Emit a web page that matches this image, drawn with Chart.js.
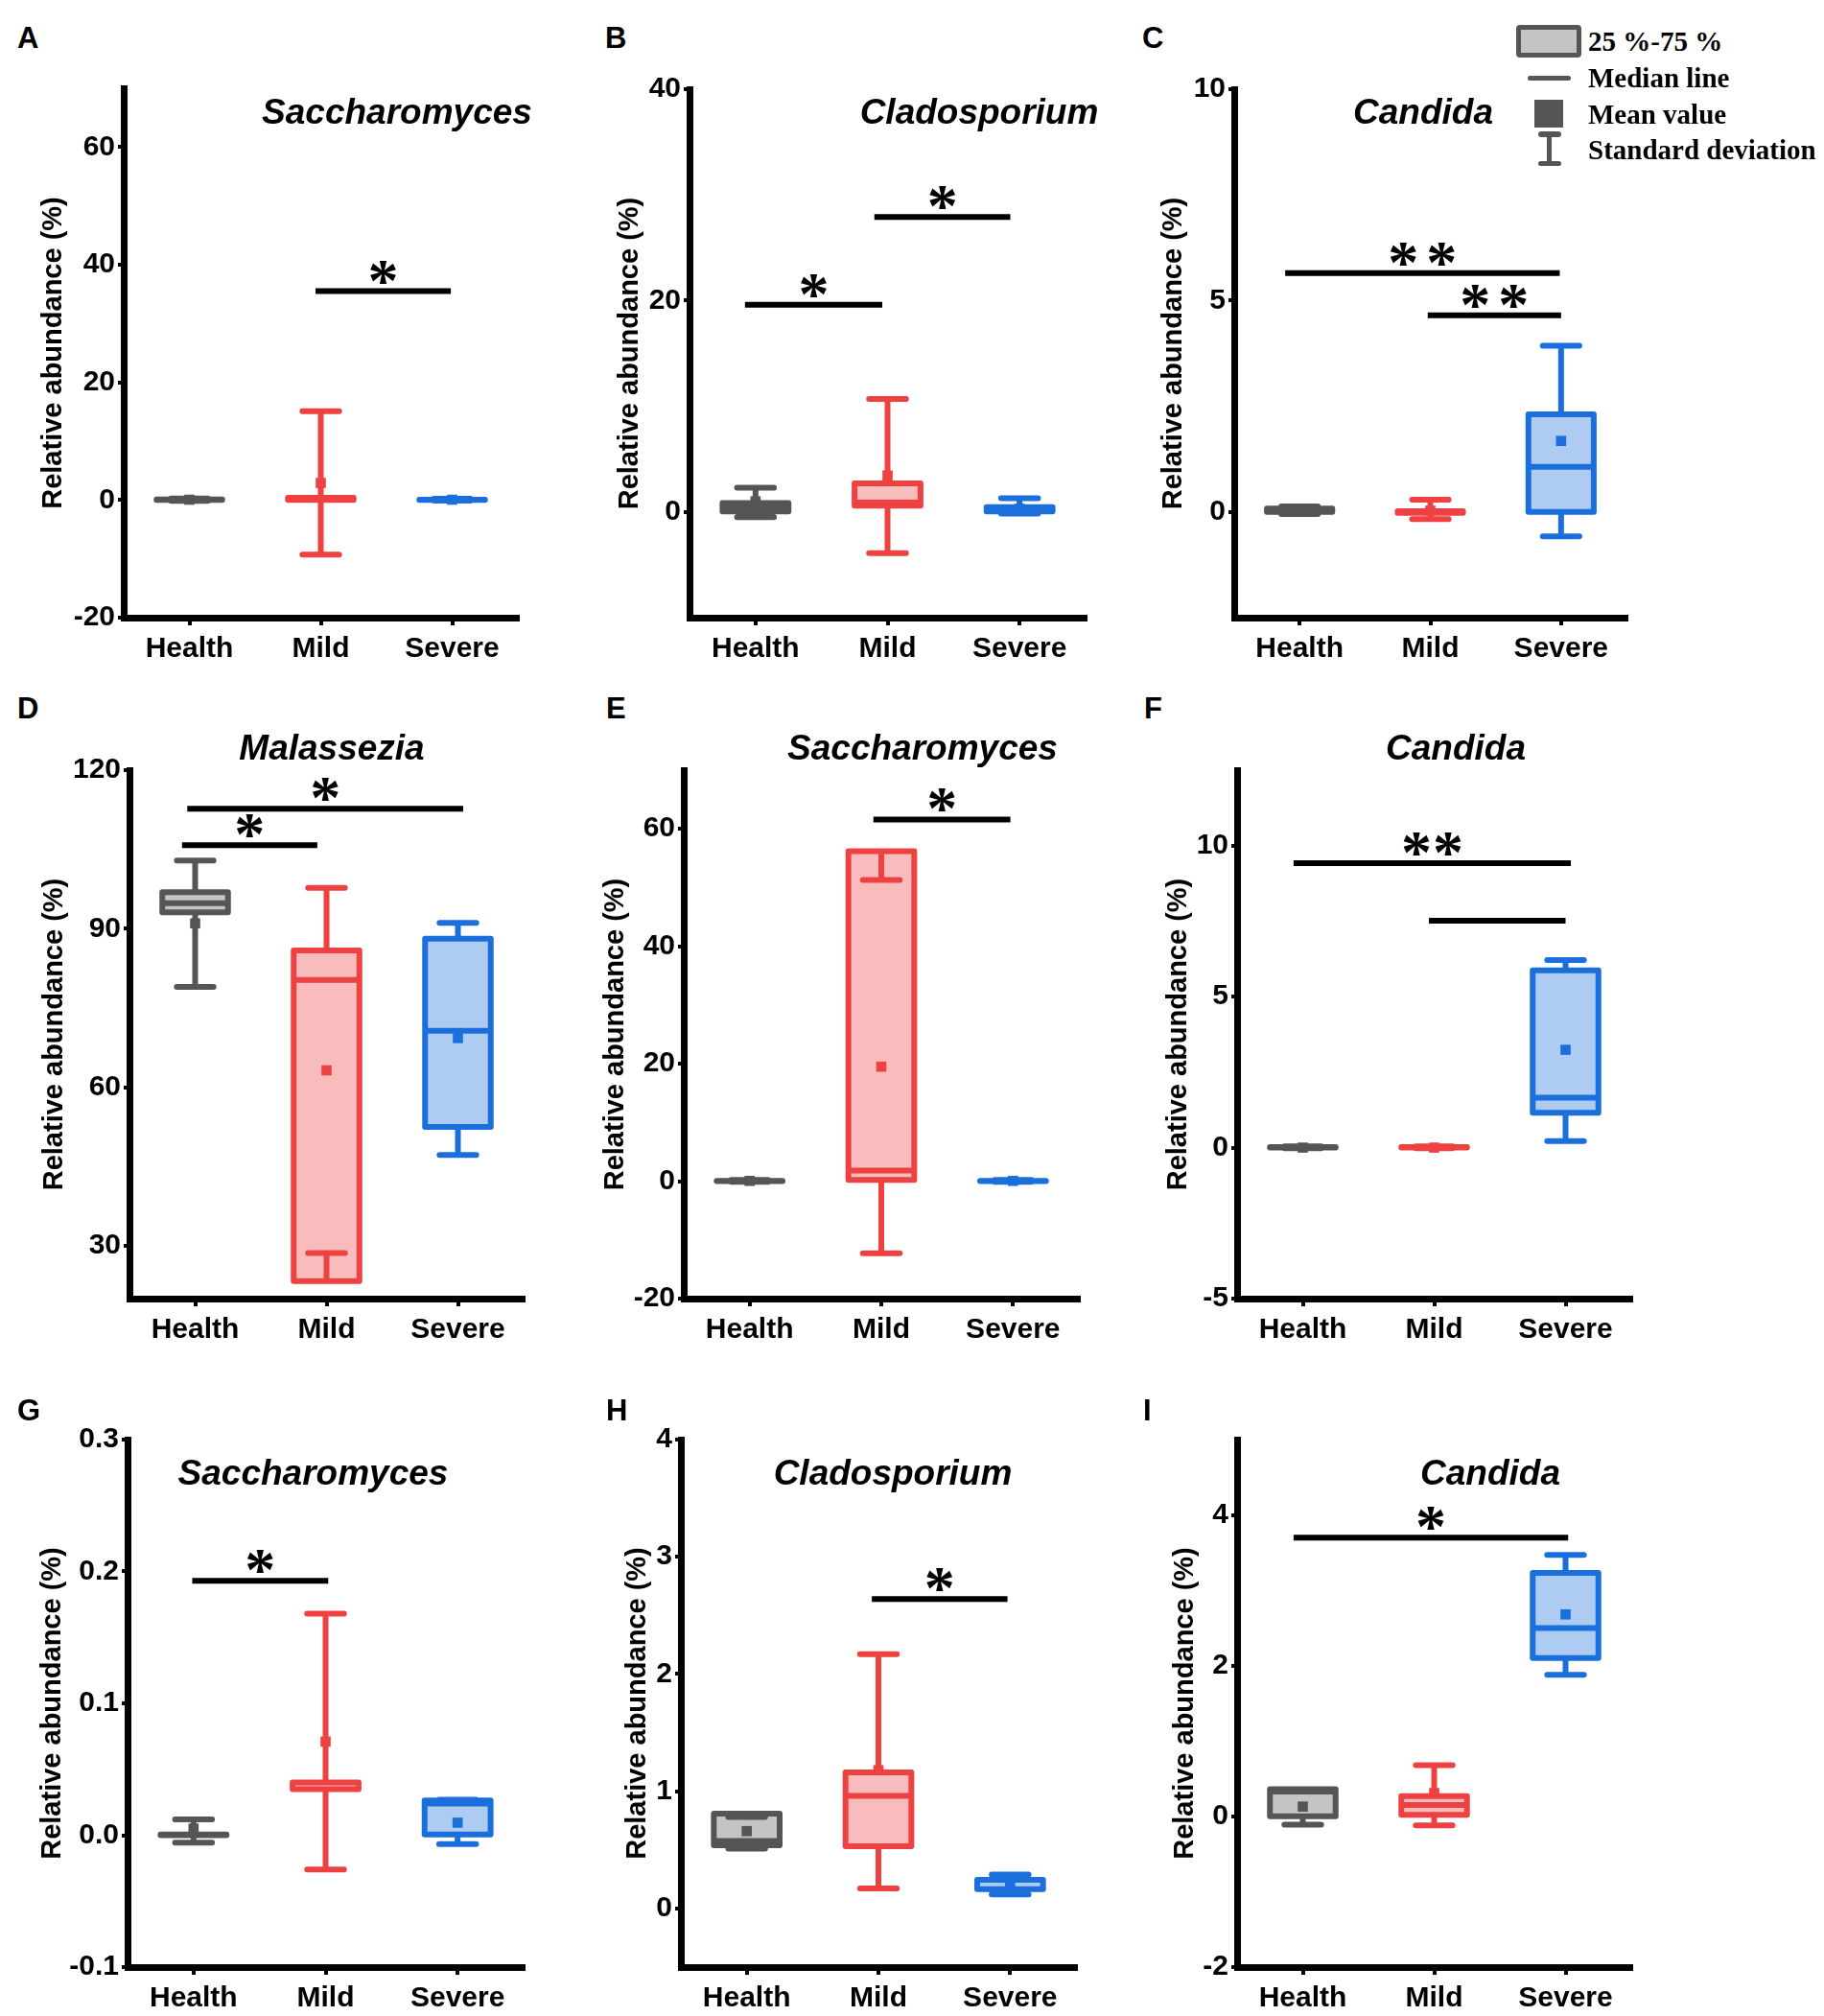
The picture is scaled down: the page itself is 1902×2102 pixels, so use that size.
<!DOCTYPE html>
<html>
<head>
<meta charset="utf-8">
<script src="https://cdn.jsdelivr.net/npm/chart.js@4.4.1/dist/chart.umd.min.js"></script>
<style>
    html, body { margin: 0; padding: 0; background: #fff; }
    body { width: 1902px; height: 2102px; position: relative; overflow: hidden; }
    canvas { position: absolute; }
    .letter { position: absolute; font: bold 31px 'Liberation Sans', Arial, sans-serif; line-height: 31px; color: #000; }
    .title { position: absolute; font: italic bold 37px 'Liberation Sans', Arial, sans-serif; line-height: 37px; color: #000; white-space: nowrap; transform: translateX(-50%); }
    .lg-text { position: absolute; font: bold 29px 'Liberation Serif', 'Times New Roman', serif; line-height: 29px; color: #000; white-space: nowrap; }
    .lg-shape { position: absolute; background: #555; }
</style>
</head>
<body>
<script>
/* ============================================
   DATA
   ============================================ */
const groups = ['Health', 'Mild', 'Severe'];

// A - Saccharomyces
const aQ1 = [0, 0, 0];
const aMedian = [0, 0.1, 0];
const aQ3 = [0.1, 0.4, 0.05];
const aMean = [0.05, 2.9, 0.05];
const aSdLow = [-0.15, -9.3, -0.1];
const aSdHigh = [0.25, 15.1, 0.2];
const aTicks = [-20, 0, 20, 40, 60];
const aSig = [[1.96, 2.99, 35.5, '*']];

// B - Cladosporium
const bQ1 = [0.05, 0.6, 0.05];
const bMedian = [0.4, 0.9, 0.2];
const bQ3 = [0.85, 2.7, 0.45];
const bMean = [1.0, 3.45, 0.3];
const bSdLow = [-0.5, -3.9, -0.15];
const bSdHigh = [2.3, 10.7, 1.3];
const bTicks = [0, 20, 40];
const bSig = [[0.92, 1.96, 19.6, '*'], [1.9, 2.93, 27.9, '*']];

// C - Candida
const cQ1 = [0, -0.02, 0];
const cMedian = [0.03, 0, 1.07];
const cQ3 = [0.08, 0.02, 2.31];
const cMean = [0.04, 0.03, 1.68];
const cSdLow = [-0.05, -0.17, -0.58];
const cSdHigh = [0.13, 0.29, 3.93];
const cTicks = [0, 5, 10];
const cSig = [[0.89, 2.99, 5.65, '* *'], [1.98, 3.0, 4.65, '* *']];

// D - Malassezia
const dQ1 = [93.1, 23.3, 52.5];
const dMedian = [94.8, 80.3, 70.7];
const dQ3 = [96.9, 85.9, 88.1];
const dMean = [91, 63.2, 69.3];
const dSdLow = [79, 28.6, 47.2];
const dSdHigh = [102.9, 97.7, 91.1];
const dTicks = [30, 60, 90, 120];
const dSig = [[0.9, 1.93, 105.8, '*'], [0.94, 3.04, 112.7, '*']];

// E - Saccharomyces
const eQ1 = [0, 0.2, 0];
const eMedian = [0, 1.8, 0];
const eQ3 = [0.05, 56.2, 0.05];
const eMean = [0.05, 19.5, 0.05];
const eSdLow = [-0.1, -12.3, -0.1];
const eSdHigh = [0.2, 51.3, 0.2];
const eTicks = [-20, 0, 20, 40, 60];
const eSig = [[1.94, 2.98, 61.6, '*']];

// F - Candida
const fQ1 = [0, 0, 1.15];
const fMedian = [0, 0, 1.65];
const fQ3 = [0.02, 0.02, 5.87];
const fMean = [0, 0, 3.24];
const fSdLow = [-0.02, -0.02, 0.22];
const fSdHigh = [0.04, 0.04, 6.21];
const fTicks = [-5, 0, 5, 10];
const fSig = [[0.93, 3.04, 9.42, '**'], [1.96, 3.0, 7.51, '']];

// G - Saccharomyces
const gQ1 = [0, 0.035, 0.0005];
const gMedian = [0, 0.04, 0.024];
const gQ3 = [0.0005, 0.04, 0.0263];
const gMean = [0.005, 0.071, 0.0095];
const gSdLow = [-0.0057, -0.026, -0.0068];
const gSdHigh = [0.012, 0.168, 0.027];
const gTicks = [-0.1, 0, 0.1, 0.2, 0.3];
const gSig = [[0.99, 2.02, 0.193, '*']];

// H - Cladosporium
const hQ1 = [0.54, 0.53, 0.165];
const hMedian = [0.576, 0.96, 0.245];
const hQ3 = [0.81, 1.16, 0.245];
const hMean = [0.66, 1.18, 0.2];
const hSdLow = [0.51, 0.17, 0.12];
const hSdHigh = [0.78, 2.17, 0.29];
const hTicks = [0, 1, 2, 3, 4];
const hSig = [[1.95, 2.98, 2.64, '*']];

// I - Candida
const iQ1 = [0, 0.02, 2.10];
const iMedian = [0.33, 0.15, 2.50];
const iQ3 = [0.36, 0.27, 3.23];
const iMean = [0.13, 0.31, 2.68];
const iSdLow = [-0.11, -0.12, 1.88];
const iSdHigh = [0.34, 0.68, 3.47];
const iTicks = [-2, 0, 2, 4];
const iSig = [[0.93, 3.02, 3.70, '*']];

const panels = [
    { id: 'A', title: 'Saccharomyces', q1: aQ1, median: aMedian, q3: aQ3, mean: aMean, low: aSdLow, high: aSdHigh, min: -20, max: 70, ticks: aTicks, sig: aSig, decimals: 0 },
    { id: 'B', title: 'Cladosporium', q1: bQ1, median: bMedian, q3: bQ3, mean: bMean, low: bSdLow, high: bSdHigh, min: -10, max: 40, ticks: bTicks, sig: bSig, decimals: 0 },
    { id: 'C', title: 'Candida', q1: cQ1, median: cMedian, q3: cQ3, mean: cMean, low: cSdLow, high: cSdHigh, min: -2.5, max: 10, ticks: cTicks, sig: cSig, decimals: 0 },
    { id: 'D', title: 'Malassezia', q1: dQ1, median: dMedian, q3: dQ3, mean: dMean, low: dSdLow, high: dSdHigh, min: 20, max: 120, ticks: dTicks, sig: dSig, decimals: 0 },
    { id: 'E', title: 'Saccharomyces', q1: eQ1, median: eMedian, q3: eQ3, mean: eMean, low: eSdLow, high: eSdHigh, min: -20, max: 70, ticks: eTicks, sig: eSig, decimals: 0 },
    { id: 'F', title: 'Candida', q1: fQ1, median: fMedian, q3: fQ3, mean: fMean, low: fSdLow, high: fSdHigh, min: -5, max: 12.5, ticks: fTicks, sig: fSig, decimals: 0 },
    { id: 'G', title: 'Saccharomyces', q1: gQ1, median: gMedian, q3: gQ3, mean: gMean, low: gSdLow, high: gSdHigh, min: -0.1, max: 0.3, ticks: gTicks, sig: gSig, decimals: 1 },
    { id: 'H', title: 'Cladosporium', q1: hQ1, median: hMedian, q3: hQ3, mean: hMean, low: hSdLow, high: hSdHigh, min: -0.5, max: 4, ticks: hTicks, sig: hSig, decimals: 0 },
    { id: 'I', title: 'Candida', q1: iQ1, median: iMedian, q3: iQ3, mean: iMean, low: iSdLow, high: iSdHigh, min: -2, max: 5, ticks: iTicks, sig: iSig, decimals: 0 }
];

/* ============================================
   LAYOUT (pixel positions of each plot area)
   ============================================ */
const layout = {
    A: { axisX: 128.5, top: 91.5, bottom: 643, right: 539, yTitleOff: 73.5, titleX: 414, titleBase: 129, letterX: 18, letterBase: 50 },
    B: { axisX: 719, top: 93, bottom: 644, right: 1131.6, yTitleOff: 62, titleX: 1021, titleBase: 129, letterX: 631, letterBase: 50 },
    C: { axisX: 1287, top: 93, bottom: 644, right: 1695.6, yTitleOff: 63, titleX: 1484, titleBase: 129, letterX: 1191, letterBase: 50 },
    D: { axisX: 134.7, top: 802.7, bottom: 1354, right: 546, yTitleOff: 77.7, titleX: 346, titleBase: 792, letterX: 18, letterBase: 749 },
    E: { axisX: 713.3, top: 802.7, bottom: 1354, right: 1125, yTitleOff: 71, titleX: 962, titleBase: 792, letterX: 632, letterBase: 749 },
    F: { axisX: 1290, top: 802.7, bottom: 1354, right: 1701, yTitleOff: 61.4, titleX: 1518, titleBase: 792, letterX: 1193, letterBase: 749 },
    G: { axisX: 133, top: 1500.5, bottom: 2050.7, right: 546, yTitleOff: 78, titleX: 326.5, titleBase: 1548, letterX: 18, letterBase: 1481 },
    H: { axisX: 710.2, top: 1500.5, bottom: 2050.7, right: 1122.4, yTitleOff: 45, titleX: 931, titleBase: 1548, letterX: 632, letterBase: 1481 },
    I: { axisX: 1290, top: 1500.5, bottom: 2050.7, right: 1701, yTitleOff: 54, titleX: 1554, titleBase: 1548, letterX: 1192, letterBase: 1481 }
};

const colors = [
    { line: '#555555', fill: '#c4c4c4' },
    { line: '#ee4242', fill: '#f8bcbc' },
    { line: '#1b6fdc', fill: '#aecbf1' }
];

const FONT = "'Liberation Sans', Arial, sans-serif";
const BOX_HALF = 0.25;   // half box width, x units
const CAP_HALF = 0.14;   // half whisker cap width, x units
const Y_W = 110, PAD_T = 24, PAD_R = 10, X_H = 54;

/* ============================================
   SIGNIFICANCE STARS PLUGIN
   ============================================ */
const sigStars = {
    id: 'sigStars',
    afterDatasetsDraw(chart, args, opts) {
        const { ctx, scales: { x, y } } = chart;
        ctx.save();
        ctx.font = "bold 64px 'Liberation Serif', 'Times New Roman', serif";
        ctx.fillStyle = '#000';
        ctx.textAlign = 'center';
        ctx.textBaseline = 'alphabetic';
        (opts.sig || []).forEach(([x1, x2, level, mark]) => {
            if (!mark) return;
            const n = mark.replace(/ /g, '').length;
            const step = mark.includes(' ') ? 40 : 33;   // spaced "* *" vs tight "**"
            const cx = x.getPixelForValue((x1 + x2) / 2);
            const cy = y.getPixelForValue(level) - 19;
            for (let k = 0; k < n; k++) {
                const px = cx + (k - (n - 1) / 2) * step;
                ctx.fillText('*', px, cy + 29);
            }
        });
        ctx.restore();
    }
};

/* ============================================
   BUILD ONE PANEL
   ============================================ */
function boxPath(p, i) {
    const x = i + 1;
    const gap = { x, y: null };
    return [
        { x: x - BOX_HALF, y: p.q1[i] }, { x: x + BOX_HALF, y: p.q1[i] },
        { x: x + BOX_HALF, y: p.q3[i] }, { x: x - BOX_HALF, y: p.q3[i] },
        { x: x - BOX_HALF, y: p.q1[i] }, gap,
        { x: x - BOX_HALF, y: p.median[i] }, { x: x + BOX_HALF, y: p.median[i] }, gap,
        { x, y: p.q3[i] }, { x, y: p.high[i] }, gap,
        { x, y: p.q1[i] }, { x, y: p.low[i] }, gap,
        { x: x - CAP_HALF, y: p.high[i] }, { x: x + CAP_HALF, y: p.high[i] }, gap,
        { x: x - CAP_HALF, y: p.low[i] }, { x: x + CAP_HALF, y: p.low[i] }
    ];
}

function buildPanel(p) {
    const L = layout[p.id];
    const plotW = Math.round(L.right - L.axisX);
    const plotH = Math.round(L.bottom - L.top);
    const left = Math.round(L.axisX - Y_W);
    const top = Math.round(L.top - PAD_T);
    const w = Y_W + plotW + PAD_R;
    const h = PAD_T + plotH + X_H;

    const canvas = document.createElement('canvas');
    canvas.width = w;
    canvas.height = h;
    canvas.style.left = left + 'px';
    canvas.style.top = top + 'px';
    canvas.style.width = w + 'px';
    canvas.style.height = h + 'px';
    document.body.appendChild(canvas);

    // Panel letter and genus title
    const letter = document.createElement('div');
    letter.className = 'letter';
    letter.textContent = p.id;
    letter.style.left = L.letterX + 'px';
    letter.style.top = (L.letterBase - 26.2) + 'px';
    document.body.appendChild(letter);

    const title = document.createElement('div');
    title.className = 'title';
    title.textContent = p.title;
    title.style.left = L.titleX + 'px';
    title.style.top = (L.titleBase - 31.3) + 'px';
    document.body.appendChild(title);

    const sigData = [];
    p.sig.forEach(([x1, x2, level]) => {
        sigData.push({ x: x1, y: level }, { x: x2, y: level }, { x: x2, y: null });
    });

    const datasets = [
        {
            type: 'bar',
            data: groups.map((g, i) => ({ x: i + 1, y: [p.q1[i], p.q3[i]] })),
            backgroundColor: colors.map(c => c.fill),
            borderWidth: 0,
            inflateAmount: 0,
            barPercentage: 2 * BOX_HALF,
            categoryPercentage: 1,
            order: 3
        },
        ...groups.map((g, i) => ({
            type: 'line',
            data: boxPath(p, i),
            borderColor: colors[i].line,
            borderWidth: 6,
            borderCapStyle: 'round',
            borderJoinStyle: 'round',
            pointRadius: 0,
            spanGaps: false,
            tension: 0,
            order: 2
        })),
        {
            type: 'line',
            data: p.mean.map((m, i) => ({ x: i + 1, y: m })),
            showLine: false,
            pointStyle: 'rect',
            pointRadius: 7.5,
            pointBorderWidth: 0,
            pointBackgroundColor: colors.map(c => c.line),
            order: 1
        },
        {
            type: 'line',
            data: sigData,
            borderColor: '#000',
            borderWidth: 6,
            borderCapStyle: 'butt',
            pointRadius: 0,
            spanGaps: false,
            order: 0
        }
    ];

    const tickFont = { family: FONT, size: 30, weight: 'bold' };

    new Chart(canvas, {
        type: 'bar',
        data: { datasets },
        options: {
            responsive: false,
            animation: false,
            devicePixelRatio: 1,
            events: [],
            layout: { padding: { left: 0, top: PAD_T, right: PAD_R, bottom: 0 } },
            plugins: {
                legend: { display: false },
                tooltip: { enabled: false },
                sigStars: { sig: p.sig }
            },
            scales: {
                x: {
                    type: 'linear',
                    min: 0.5,
                    max: 3.5,
                    offset: false,
                    afterBuildTicks: s => { s.ticks = groups.map((g, i) => ({ value: i + 1 })); },
                    afterFit: s => { s.height = X_H; },
                    ticks: { color: '#000', font: tickFont, padding: 7, maxRotation: 0, autoSkip: false, callback: v => groups[v - 1] },
                    grid: { display: true, offset: false, drawOnChartArea: false, drawTicks: true, tickLength: 8, tickWidth: 4, lineWidth: 4, color: '#000', tickColor: '#000' },
                    border: { display: true, width: 7, color: '#000' }
                },
                y: {
                    type: 'linear',
                    min: p.min,
                    max: p.max,
                    afterBuildTicks: s => { s.ticks = p.ticks.map(v => ({ value: v })); },
                    afterFit: s => { s.width = Y_W; },
                    ticks: { color: '#000', font: tickFont, padding: 3, callback: v => v.toFixed(p.decimals) },
                    grid: { display: true, drawOnChartArea: false, drawTicks: true, tickLength: 6, tickWidth: 4, lineWidth: 4, color: '#000', tickColor: '#000' },
                    border: { display: true, width: 7, color: '#000' },
                    title: {
                        display: true,
                        text: 'Relative abundance (%)',
                        color: '#000',
                        font: { family: FONT, size: 29, weight: 'bold' },
                        padding: { top: Y_W - L.yTitleOff - 17.4, bottom: 0 }
                    }
                }
            }
        },
        plugins: [sigStars]
    });
}

panels.forEach(buildPanel);

/* ============================================
   LEGEND (panel C, top right)
   ============================================ */
function addDiv(cls, css, text) {
    const d = document.createElement('div');
    d.className = cls;
    Object.assign(d.style, css);
    if (text) d.textContent = text;
    document.body.appendChild(d);
    return d;
}

addDiv('lg-shape', { left: '1581px', top: '26px', width: '68px', height: '34px', background: '#c4c4c4', border: '5px solid #555', boxSizing: 'border-box', borderRadius: '4px' });
addDiv('lg-shape', { left: '1593px', top: '78.5px', width: '45px', height: '5.5px', borderRadius: '3px' });
addDiv('lg-shape', { left: '1600px', top: '104px', width: '30px', height: '29px' });
addDiv('lg-shape', { left: '1603.5px', top: '137px', width: '24px', height: '5.5px', borderRadius: '3px' });
addDiv('lg-shape', { left: '1612.5px', top: '139px', width: '5.5px', height: '30px' });
addDiv('lg-shape', { left: '1603.5px', top: '167.5px', width: '24px', height: '5.5px', borderRadius: '3px' });

const legendLabels = ['25 %-75 %', 'Median line', 'Mean value', 'Standard deviation'];
const legendBase = [53.6, 91.5, 129.5, 166.5];
legendLabels.forEach((t, k) => {
    addDiv('lg-text', { left: '1656px', top: (legendBase[k] - 24.3) + 'px' }, t);
});
</script>
</body>
</html>
